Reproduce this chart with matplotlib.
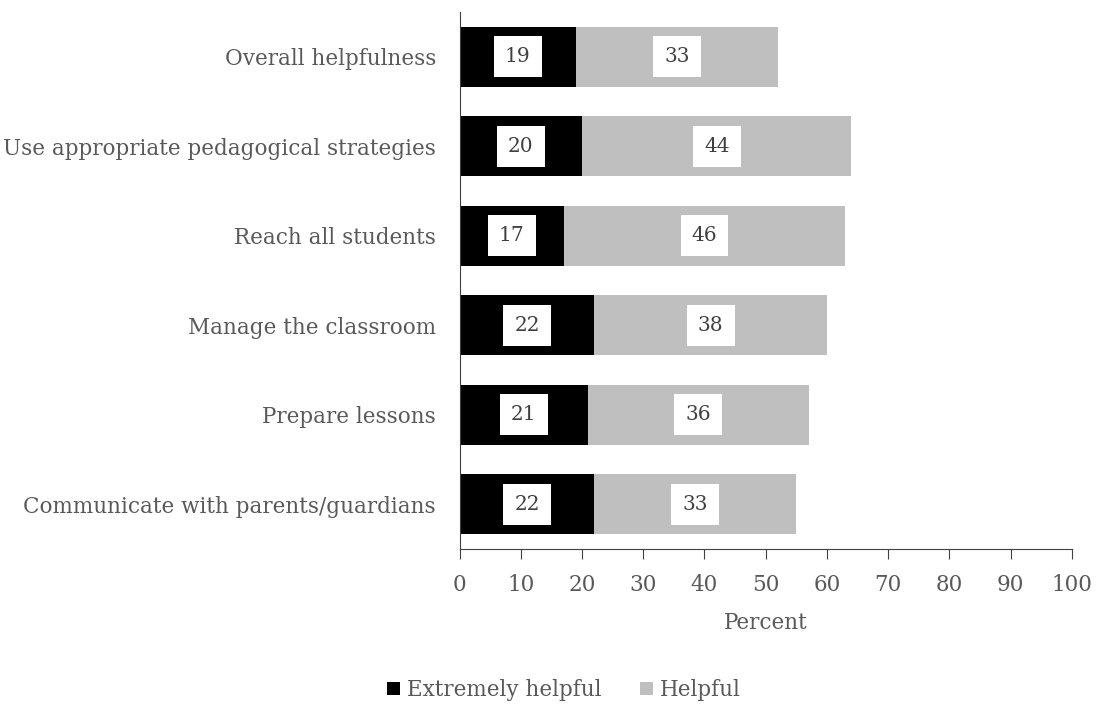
import numpy as np
import matplotlib.pyplot as plt

plt.rcParams['font.family'] = ['DejaVu Serif']

categories = ['Overall helpfulness', 'Use appropriate pedagogical strategies',
              'Reach all students', 'Manage the classroom', 'Prepare lessons',
              'Communicate with parents/guardians']
extremely = [19, 20, 17, 22, 21, 22]
helpful = [33, 44, 46, 38, 36, 33]
xticks = list(range(0, 101, 10))

txt = '#595959'
fs = 15.5
fig = plt.figure(figsize=(10.97, 7.10), dpi=100)
ax = fig.add_axes([0.419, 0.227, 0.558, 0.756])

y = np.arange(len(categories))
b1 = ax.barh(y, extremely, height=0.67, color='black', label='Extremely helpful')
b2 = ax.barh(y, helpful, left=extremely, height=0.67, color='#bfbfbf', label='Helpful')

# value labels in white boxes
for bars in (b1, b2):
    for r in bars:
        cx = r.get_x() + r.get_width() / 2
        cy = r.get_y() + r.get_height() / 2
        ax.text(cx, cy, f'{r.get_width():.0f}', ha='center', va='center',
                fontsize=14.5, color='#404040',
                bbox=dict(boxstyle='square,pad=0.55', fc='white', ec='none'))

ax.set_ylim(len(categories) - 0.5, -0.5)
ax.set_xlim(0, 100)
ax.set_yticks(y)
ax.set_yticklabels(categories, fontsize=fs, color=txt)
ax.tick_params(axis='y', length=0, pad=17)
ax.set_xticks(xticks)
ax.set_xticklabels([str(t) for t in xticks], fontsize=fs, color=txt)
ax.tick_params(axis='x', direction='out', length=7, color='#404040', pad=11)
ax.set_xlabel('Percent', fontsize=fs, color=txt, labelpad=12)

for s in ('top', 'right'):
    ax.spines[s].set_visible(False)
ax.spines['left'].set_color('#404040')
ax.spines['bottom'].set_color('#404040')

fig.legend(handles=[b1, b2], loc='center', bbox_to_anchor=(0.514, 0.028), ncol=2,
           frameon=False, fontsize=fs, labelcolor=txt, handlelength=0.6,
           handleheight=0.6, handletextpad=0.3, columnspacing=1.8)

fig.savefig('out.png', dpi=100)
